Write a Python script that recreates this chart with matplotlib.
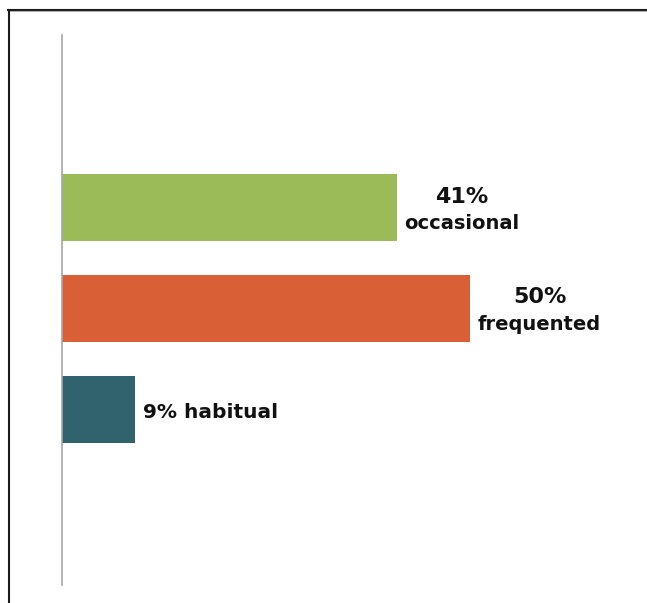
import matplotlib
matplotlib.use("Agg")
import matplotlib.pyplot as plt
from matplotlib.lines import Line2D

# ---------------------------------DATA---------------------------------------
categories = ["habitual", "frequented", "occasional"]
shares = [9, 50, 41]
bar_colors = ["#31636F", "#D96036", "#9BBB59"]
pct_labels = ["9%", "50%", "41%"]
word_labels = ["habitual", "frequented", "occasional"]
two_line = [False, True, True]

# ---------------------------------FIGURE-------------------------------------
fig = plt.figure(figsize=(6.47, 6.03), dpi=100)
ax = fig.add_axes([62 / 647, 18 / 603, 574 / 647, 550 / 603])

ypos = list(range(len(categories)))
ax.barh(ypos, shares, height=0.667, color=bar_colors, edgecolor="none")

txt = dict(fontweight="bold", color="#111111")
for y, v, p, w, two in zip(ypos, shares, pct_labels, word_labels, two_line):
    if two:
        word = ax.annotate(w, xy=(v, y), xytext=(5.5, -15.5), textcoords="offset points",
                           ha="left", va="baseline", fontsize=14, **txt)
        ax.annotate(p, xy=(0.5, 1), xycoords=word, xytext=(0, 8.5), textcoords="offset points",
                    ha="center", va="baseline", fontsize=16, **txt)
    else:
        ax.annotate(p + " " + w, xy=(v, y), xytext=(5.5, -6.5), textcoords="offset points",
                    ha="left", va="baseline", fontsize=14.5, **txt)

ax.set_xlim(0, 70.3)
ax.set_ylim(-1.75, 3.72)
ax.set_xticks([])
ax.set_yticks([])
for s in ["top", "right", "bottom"]:
    ax.spines[s].set_visible(False)
ax.spines["left"].set_color("#A6A6A6")
ax.spines["left"].set_linewidth(1.2)

# frame around the picture (top and left edges)
W, H = 647, 603
fig.add_artist(Line2D([8 / W, 1], [1 - 9.5 / H, 1 - 9.5 / H], transform=fig.transFigure,
                      color="#1a1a1a", lw=1.5))
fig.add_artist(Line2D([8 / W, 1], [1 - 11 / H, 1 - 11 / H], transform=fig.transFigure,
                      color="#b0b0b0", lw=0.8))
fig.add_artist(Line2D([8.5 / W, 8.5 / W], [0, 1 - 9.5 / H], transform=fig.transFigure,
                      color="#1a1a1a", lw=1.5))

fig.savefig("out.png", dpi=100)
